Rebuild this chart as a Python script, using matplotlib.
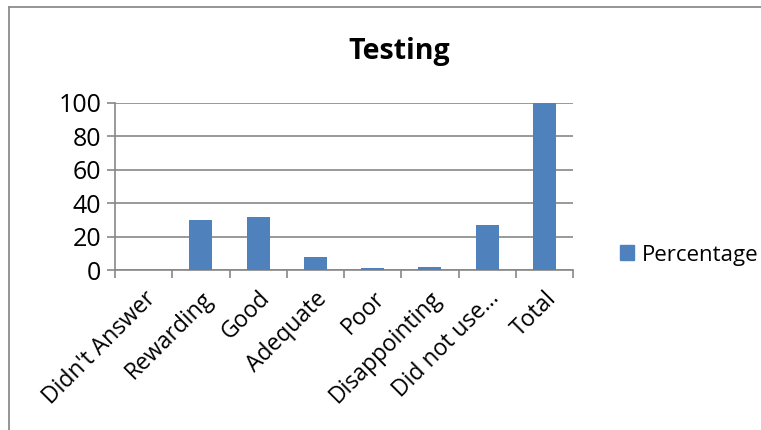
import matplotlib
matplotlib.use("Agg")
import matplotlib.pyplot as plt
from matplotlib.lines import Line2D
from matplotlib.patches import Patch

categories = ["Didn't Answer", "Rewarding", "Good", "Adequate", "Poor",
              "Disappointing", "Did not use...", "Total"]
percentage = [0, 30, 32, 8, 1, 2, 27, 100]
yticks = [0, 20, 40, 60, 80, 100]

W, H = 761, 430
fig = plt.figure(figsize=(W/100, H/100), dpi=100)
plt.rcParams['font.family'] = ['Open Sans', 'DejaVu Sans']

# outer chart border (top and left edges visible)
bx, by = 9/W, 1 - 7/H
fig.add_artist(Line2D([bx, 1.0], [by, by], transform=fig.transFigure,
                      color='#8c8c8c', linewidth=1.3))
fig.add_artist(Line2D([bx, bx], [0, by], transform=fig.transFigure,
                      color='#8c8c8c', linewidth=1.3))

left, right, top, bottom = 115, 573, 103, 270
ax = fig.add_axes([left/W, 1 - bottom/H, (right-left)/W, (bottom-top)/H])
x = list(range(len(categories)))
ax.bar(x, percentage, width=0.4, color='#4F81BD', zorder=3, label='Percentage')
ax.set_xlim(-0.5, len(categories) - 0.5)
ax.set_ylim(0, 100)
ax.set_yticks(yticks)
ax.set_yticklabels([str(v) for v in yticks], fontsize=18)
ax.yaxis.grid(True, color='#878787', linewidth=1.2, zorder=0)
for s in ['top', 'right']:
    ax.spines[s].set_visible(False)
for s in ['left', 'bottom']:
    ax.spines[s].set_color('#878787')
    ax.spines[s].set_linewidth(1.2)
ax.tick_params(axis='y', length=6, color='#878787', width=1.2, pad=4)
ax.set_xticks([i - 0.5 for i in range(len(categories) + 1)])
ax.set_xticklabels([])
ax.tick_params(axis='x', length=6, color='#878787', width=1.2)
ax.set_xticks(x, minor=True)
ax.set_xticklabels(categories, minor=True, rotation=45, ha='right', va='top',
                   rotation_mode='anchor', fontsize=16.5)
ax.tick_params(axis='x', which='minor', length=0, pad=12)

fig.text(399/W, 1 - 52/H, "Testing", ha='center', va='center', fontsize=20.5,
         fontweight='bold')

fig.legend(handles=[Patch(color='#4F81BD', label='Percentage')],
           loc='center left', bbox_to_anchor=(604/W, 1 - 255/H), frameon=False,
           fontsize=16, handlelength=0.65, handleheight=0.65, handletextpad=0.35,
           borderpad=0.2)

fig.savefig("out.png", dpi=100)
